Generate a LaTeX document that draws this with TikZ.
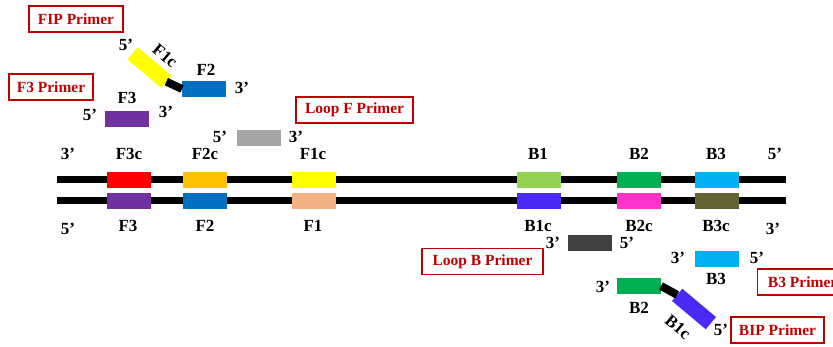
\documentclass[tikz,border=0pt]{standalone}
\usepackage{fontspec}
\setmainfont{Liberation Serif}
\definecolor{tagred}{HTML}{C00000}
\definecolor{cF3c}{HTML}{FF0000}
\definecolor{cF3}{HTML}{7030A0}
\definecolor{cF2c}{HTML}{FFC000}
\definecolor{cF2}{HTML}{0070C0}
\definecolor{cF1c}{HTML}{FFFF00}
\definecolor{cF1}{HTML}{F4B183}
\definecolor{cB1}{HTML}{92D050}
\definecolor{cB1c}{HTML}{4A2BF5}
\definecolor{cB2}{HTML}{00B050}
\definecolor{cB2c}{HTML}{FF33CC}
\definecolor{cB3}{HTML}{00B0F0}
\definecolor{cB3c}{HTML}{646433}
\definecolor{cLF}{HTML}{A6A6A6}
\definecolor{cLB}{HTML}{404040}
\begin{document}
\begin{tikzpicture}[x=1pt,y=-1pt,
  seg/.style={minimum width=44pt,minimum height=16pt,inner sep=0pt,outer sep=0pt},
  lbl/.style={font=\bfseries\fontsize{17}{20}\selectfont,inner sep=0pt},
  tag/.style={draw=tagred,line width=1.2pt,text=tagred,font=\bfseries\fontsize{15.5}{18}\selectfont,minimum height=26pt,inner sep=0pt},
  strand/.style={line width=7pt},
  link/.style={line width=8pt}]
\useasboundingbox (0,0) rectangle (833,347);
\clip (0,0) rectangle (833,347);
% strands
\coordinate (t0) at (57,180); \coordinate (t1) at (786,180);
\coordinate (b0) at (57,201); \coordinate (b1) at (786,201);
\draw[strand] (t0) -- (t1);
\draw[strand] (b0) -- (b1);
% top strand segments
\node[seg,fill=cF3c] (sF3c) at (128.5,180) {};
\node[seg,fill=cF2c] (sF2c) at (205,180) {};
\node[seg,fill=cF1c] (sF1c) at (313.5,180) {};
\node[seg,fill=cB1] (sB1) at (538.5,180) {};
\node[seg,fill=cB2] (sB2) at (639,180) {};
\node[seg,fill=cB3] (sB3) at (716.5,180) {};
% bottom strand segments
\node[seg,fill=cF3] (sF3) at (128.5,201) {};
\node[seg,fill=cF2] (sF2) at (205,201) {};
\node[seg,fill=cF1] (sF1) at (313.5,201) {};
\node[seg,fill=cB1c] (sB1c) at (538.5,201) {};
\node[seg,fill=cB2c] (sB2c) at (639,201) {};
\node[seg,fill=cB3c] (sB3c) at (716.5,201) {};
% labels above
\node[lbl] (l3top) at (68,154) {3’};
\node[lbl] (lF3c) at (129,154) {F3c};
\node[lbl] (lF2c) at (205,154) {F2c};
\node[lbl] (lF1c) at (313,154) {F1c};
\node[lbl] (lB1) at (538,154) {B1};
\node[lbl] (lB2) at (639,154) {B2};
\node[lbl] (lB3) at (716,154) {B3};
\node[lbl] (l5top) at (775,154) {5’};
% labels below
\node[lbl] (l5bot) at (68,229) {5’};
\node[lbl] (lF3) at (128,226) {F3};
\node[lbl] (lF2) at (205,226) {F2};
\node[lbl] (lF1) at (313,226) {F1};
\node[lbl] (lB1c) at (538,226) {B1c};
\node[lbl] (lB2c) at (639,226) {B2c};
\node[lbl] (lB3c) at (716,226) {B3c};
\node[lbl] (l3bot) at (773,229) {3’};
% FIP primer
\node[tag,minimum width=94pt] (tFIP) at (76,19) {FIP Primer};
\node[seg,fill=cF1c,rotate=-40] (pF1c) at (149.5,67.5) {};
\node[seg,fill=cF2] (pF2) at (204,89) {};
\draw[link] (pF1c.east) -- (pF2.west);
\node[lbl] at (126,45) {5’};
\node[lbl,rotate=-40] (pF1cl) at (165,56) {F1c};
\node[lbl] (pF2l) at (206,70) {F2};
\node[lbl] at (242,88) {3’};
% F3 primer
\node[tag,minimum width=84pt] (tF3) at (51,87) {F3 Primer};
\node[seg,fill=cF3] (pF3) at (127,119) {};
\node[lbl] (pF3l) at (127,98) {F3};
\node[lbl] at (90,115) {5’};
\node[lbl] at (166,112) {3’};
% Loop F primer
\node[tag,minimum width=117pt] (tLF) at (354.5,110) {Loop F Primer};
\node[seg,fill=cLF] (pLF) at (259,138) {};
\node[lbl] at (220,137) {5’};
\node[lbl] at (296,137) {3’};
% Loop B primer
\node[seg,fill=cLB] (pLB) at (589.5,243.5) {};
\node[lbl] at (553,243) {3’};
\node[lbl] at (627,243) {5’};
\node[tag,minimum width=121pt] (tLB) at (482.5,261.5) {Loop B Primer};
% B3 primer
\node[seg,fill=cB3] (pB3) at (716.5,259) {};
\node[lbl] at (678,258) {3’};
\node[lbl] at (757,258) {5’};
\node[lbl] (pB3l) at (716,279) {B3};
\node[tag,minimum width=90pt,anchor=west] (tB3) at (757,282) {B3 Primer};
% BIP primer
\node[seg,fill=cB2] (pB2) at (639,286) {};
\node[seg,fill=cB1c,rotate=-40] (pB1c) at (694,309) {};
\draw[link] (pB2.east) -- (pB1c.west);
\node[lbl] at (603,287) {3’};
\node[lbl] (pB2l) at (639,308) {B2};
\node[lbl,rotate=-40] (pB1cl) at (678,327) {B1c};
\node[lbl] at (721,330) {5’};
\node[tag,minimum width=93pt] (tBIP) at (777.5,330) {BIP Primer};
\end{tikzpicture}
\end{document}
